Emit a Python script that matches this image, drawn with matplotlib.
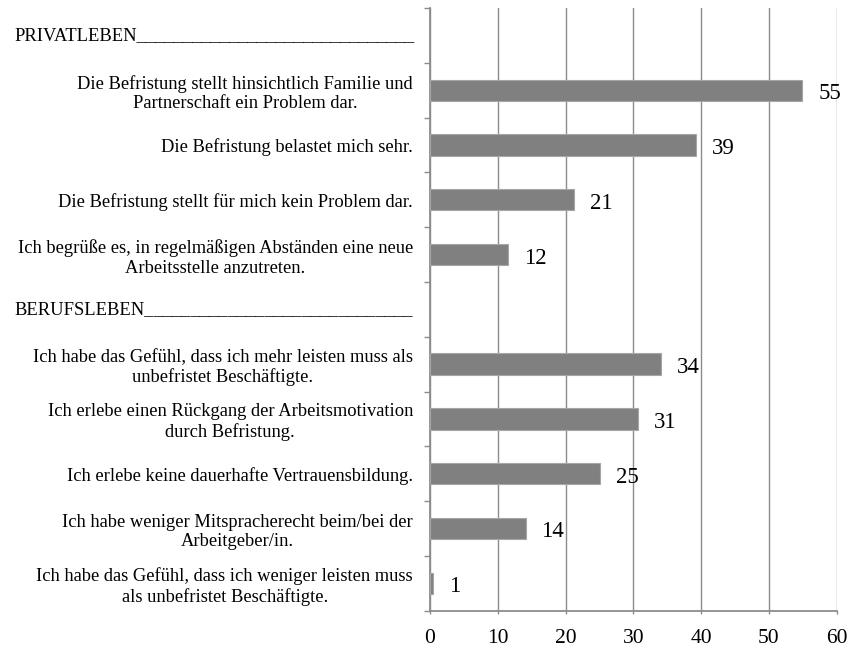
import numpy as np
import matplotlib
matplotlib.use("Agg")
import matplotlib.pyplot as plt
import matplotlib.transforms as mtransforms

plt.rcParams['font.family'] = ['Liberation Serif', 'DejaVu Serif']

# rows from top to bottom, headers have no bar
rows = [
    "PRIVATLEBEN",
    "Die Befristung stellt hinsichtlich Familie und\nPartnerschaft ein Problem dar.",
    "Die Befristung belastet mich sehr.",
    "Die Befristung stellt für mich kein Problem dar.",
    "Ich begrüße es, in regelmäßigen Abständen eine neue\nArbeitsstelle anzutreten.",
    "BERUFSLEBEN",
    "Ich habe das Gefühl, dass ich mehr leisten muss als\nunbefristet Beschäftigte.",
    "Ich erlebe einen Rückgang der Arbeitsmotivation\ndurch Befristung.",
    "Ich erlebe keine dauerhafte Vertrauensbildung.",
    "Ich habe weniger Mitspracherecht beim/bei der\nArbeitgeber/in.",
    "Ich habe das Gefühl, dass ich weniger leisten muss\nals unbefristet Beschäftigte.",
]
is_header = [True, False, False, False, False, True, False, False, False, False, False]
values = [None, 54.9, 39.2, 21.2, 11.5, None, 34.1, 30.7, 25.1, 14.1, 0.4]
value_labels = [None, "55", "39", "21", "12", None, "34", "31", "25", "14", "1"]
xticks = [0, 10, 20, 30, 40, 50, 60]

grey = '#8c8c8c'

fig = plt.figure(figsize=(8.54, 6.48), dpi=100)
ax = fig.add_axes([430/854, 1 - 610.7/648, (836.7 - 430)/854, (610.7 - 8)/648])

pos = np.arange(len(rows))
bar_pos = [p for p, v in zip(pos, values) if v is not None]
bar_val = [v for v in values if v is not None]
ax.barh(bar_pos, bar_val, height=0.39, color='#808080', edgecolor='#a6a6a6',
        linewidth=0.8, zorder=3)

for p, v, lab in zip(pos, values, value_labels):
    if v is None:
        continue
    ax.annotate(lab, (v, p), xytext=(11.5, -0.7), textcoords='offset points',
                ha='left', va='center_baseline', fontsize=16.5, zorder=4)

ax.set_xlim(0, 60)
ax.set_ylim(len(rows) - 0.5, -0.5)
ax.set_xticks(xticks)
ax.set_xticklabels([str(t) for t in xticks], fontsize=15.5)
ax.tick_params(axis='x', length=2.5, width=1, color=grey, pad=11)
ax.xaxis.grid(True, color=grey, linewidth=1)
ax.set_axisbelow(True)

# item labels as y tick labels, headers drawn separately
item_pos = [p for p, h in zip(pos, is_header) if not h]
item_lab = [r for r, h in zip(rows, is_header) if not h]
ax.set_yticks(item_pos)
ax.set_yticklabels(item_lab, fontsize=13.3)
for t in ax.get_yticklabels():
    t.set_multialignment('center')
ax.tick_params(axis='y', which='major', length=0, pad=12.2)
ax.set_yticks(np.arange(-0.5, len(rows)), minor=True)
ax.tick_params(axis='y', which='minor', length=4.3, width=1, color=grey)

# header words followed by underscores up to the label edge
trans = mtransforms.blended_transform_factory(fig.transFigure, ax.transData)
fig.canvas.draw()
renderer = fig.canvas.get_renderer()
line_end = 413
for p, r, h in zip(pos, rows, is_header):
    if not h:
        continue
    t = ax.text(14/854, p, r, transform=trans, ha='left', va='center', fontsize=13.3)
    word_end = t.get_window_extent(renderer).x1
    u = ax.text(0, 0, "_", fontsize=13.3)
    uw = u.get_window_extent(renderer).width
    u.remove()
    n = int(round((line_end - word_end) / uw))
    t.set_text(r + "_" * n)

for s in ['top', 'right']:
    ax.spines[s].set_visible(False)
ax.spines['left'].set_color(grey)
ax.spines['bottom'].set_color(grey)
ax.spines['left'].set_linewidth(1.3)
ax.spines['bottom'].set_linewidth(1.3)

fig.savefig("out.png", dpi=100)
